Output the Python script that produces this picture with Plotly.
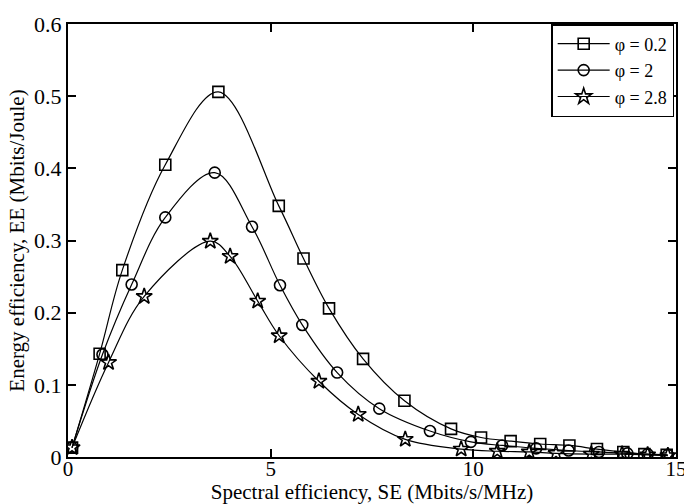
import plotly.graph_objects as go

# phi = 0.2 (squares)
x_sq = [0.1, 0.78, 1.34, 2.40, 3.71, 5.20, 5.81, 6.44, 7.28, 8.30, 9.45, 10.19, 10.92, 11.65, 12.37, 13.05, 13.70, 14.22, 14.77]
y_sq = [0.013, 0.143, 0.259, 0.405, 0.506, 0.348, 0.275, 0.206, 0.136, 0.078, 0.039, 0.027, 0.022, 0.018, 0.016, 0.011, 0.007, 0.004, 0.003]

# phi = 2 (circles)
x_ci = [0.1, 0.85, 1.57, 2.40, 3.62, 4.54, 5.23, 5.78, 6.64, 7.68, 8.93, 9.94, 10.71, 11.55, 12.35, 13.10, 13.80, 14.30, 14.80]
y_ci = [0.013, 0.142, 0.239, 0.332, 0.394, 0.319, 0.238, 0.183, 0.117, 0.067, 0.036, 0.021, 0.016, 0.012, 0.009, 0.007, 0.005, 0.004, 0.003]

# phi = 2.8 (stars)
x_st = [0.1, 1.00, 1.88, 3.51, 4.00, 4.68, 5.21, 6.19, 7.16, 8.32, 9.70, 10.59, 11.38, 12.04, 12.91, 13.67, 14.30, 14.80]
y_st = [0.013, 0.131, 0.2225, 0.299, 0.278, 0.216, 0.168, 0.105, 0.059, 0.0245, 0.011, 0.008, 0.007, 0.005, 0.004, 0.004, 0.003, 0.002]

series = [
    ("φ = 0.2", x_sq, y_sq, "square-open", 11),
    ("φ = 2", x_ci, y_ci, "circle-open", 11),
    ("φ = 2.8", x_st, y_st, "star-open", 12),
]

x_ticks = [0, 5, 10, 15]
y_ticks = [0, 0.1, 0.2, 0.3, 0.4, 0.5, 0.6]
y_tick_text = ["0", "0.1", "0.2", "0.3", "0.4", "0.5", "0.6"]

FONT = "Liberation Serif, Times New Roman, serif"

fig = go.Figure()
for name, xs, ys, sym, sz in series:
    fig.add_trace(go.Scatter(
        x=xs, y=ys, name=name, mode="lines+markers",
        line=dict(color="black", width=1.2, shape="spline", smoothing=1.0),
        marker=dict(symbol=sym, size=sz, color="black", line=dict(color="black", width=1.6)),
    ))

fig.update_layout(
    width=684, height=504,
    margin=dict(l=68, r=8, t=24, b=47),
    paper_bgcolor="white", plot_bgcolor="white",
    font=dict(family=FONT, size=22, color="black"),
    showlegend=True,
    legend=dict(
        x=0.997, y=1, xanchor="right", yanchor="top",
        bgcolor="white", bordercolor="black", borderwidth=1.5,
        font=dict(family=FONT, size=18, color="black"),
        itemwidth=52, tracegroupgap=0,
    ),
)
fig.update_xaxes(
    range=[0, 15], tickvals=x_ticks, ticktext=[str(t) for t in x_ticks],
    ticks="inside", ticklen=8, tickwidth=1.5, tickcolor="black",
    showline=True, linecolor="black", linewidth=2, mirror="ticks",
    showgrid=False, zeroline=False,
    tickfont=dict(size=21), ticklabelstandoff=-8, ticklabeloverflow="allow",
    title=dict(text="Spectral efficiency, SE (Mbits/s/MHz)", standoff=6, font=dict(size=21)),
    automargin=False,
)
fig.update_yaxes(
    range=[0, 0.6], tickvals=y_ticks, ticktext=y_tick_text,
    ticks="inside", ticklen=8, tickwidth=1.5, tickcolor="black",
    showline=True, linecolor="black", linewidth=2, mirror="ticks",
    showgrid=False, zeroline=False,
    tickfont=dict(size=22),
    title=dict(text="Energy efficiency, EE (Mbits/Joule)", standoff=4, font=dict(size=21)),
    automargin=False,
)

fig.write_html(
    "out.html",
    config={"displayModeBar": False},
    post_script="document.body.style.margin='0';document.body.style.padding='0';",
)
